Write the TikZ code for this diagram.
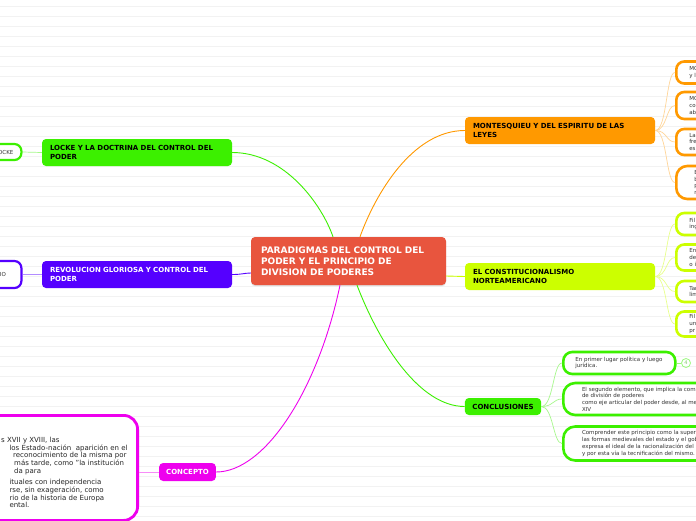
\documentclass[tikz,border=0pt]{standalone}
\usepackage{fontspec}
\setmainfont{DejaVu Sans}
\usetikzlibrary{shadows}
\definecolor{cred}{HTML}{E8553E}
\definecolor{cgreen}{HTML}{3CF000}
\definecolor{cpurple}{HTML}{5500FF}
\definecolor{corange}{HTML}{FF9900}
\definecolor{cyellow}{HTML}{CCFF00}
\definecolor{cmag}{HTML}{EE00EE}
\definecolor{bgline}{HTML}{F2F2F2}
\tikzset{
  hdr/.style={rounded corners=4pt, inner xsep=8pt, inner ysep=0pt, align=left,
    font=\fontsize{7}{8.5}\selectfont\bfseries, text=black},
  leaf/.style={draw, fill=white, line width=2.6pt, rounded corners=8pt, inner xsep=13pt,
    inner ysep=0pt, align=left, anchor=west, font=\fontsize{5.5}{6.7}\selectfont, text=black!80},
  sideleaf/.style={draw, fill=white, line width=2.2pt, rounded corners=7pt, anchor=east,
    text width=30pt, align=right, inner ysep=0pt, font=\fontsize{5.5}{6.5}\selectfont, text=black!80},
  link/.style={line width=0.9pt},
  twig/.style={line width=0.7pt},
}
\begin{document}
\begin{tikzpicture}[x=1pt,y=-1pt]
\useasboundingbox (0,0) rectangle (696,520);
\clip (0,0) rectangle (696,520);
\fill[white] (0,0) rectangle (696,520);
\foreach \i in {0,...,51} \draw[bgline, line width=0.7pt] (0,{6.5+10*\i}) -- (696,{6.5+10*\i});

% central
\node[hdr, fill=cred, text=white, font=\fontsize{9}{11}\selectfont\bfseries, text width=175pt,
  inner xsep=10pt, minimum height=48pt, drop shadow={opacity=0.25,shadow xshift=0pt,shadow yshift=-1.2pt}]
  (c) at (348.5,261) {PARADIGMAS DEL CONTROL DEL\\PODER Y EL PRINCIPIO DE\\DIVISION DE PODERES};

% main topics
\node[hdr, fill=cgreen, text width=174pt, minimum height=27pt] (locke) at (137,152.5)
  {LOCKE Y LA DOCTRINA DEL CONTROL DEL\\PODER};
\node[hdr, fill=cpurple, text=white, text width=174pt, minimum height=27pt] (rev) at (137,274.5)
  {REVOLUCION GLORIOSA Y CONTROL DEL\\PODER};
\node[hdr, fill=corange, text width=174pt, minimum height=27pt] (mont) at (560,130.5)
  {MONTESQUIEU Y DEL ESPIRITU DE LAS\\LEYES};
\node[hdr, fill=cyellow, text width=174pt, minimum height=27pt] (const) at (560,276.5)
  {EL CONSTITUCIONALISMO\\NORTEAMERICANO};
\node[hdr, fill=cgreen, inner xsep=7.5pt, minimum height=17pt] (concl) at (503,406.5) {CONCLUSIONES};
\node[hdr, fill=cmag, text=white, inner xsep=7pt, minimum height=18pt] (concepto) at (187.5,472) {CONCEPTO};

% main connectors
\draw[link, cgreen] (locke.east) .. controls (285,152.5) and (322,205) .. ([xshift=-15.5pt]c.north);
\draw[link, corange] ([xshift=11.5pt]c.north) .. controls (375,195) and (412,130.5) .. (mont.west);
\draw[link, cpurple] (rev.east) .. controls (242,274.5) and (245,273) .. ([yshift=-12pt]c.west);
\draw[link, cyellow] ([yshift=-15pt]c.east) -- (const.west);
\draw[link, cgreen] ([xshift=8.5pt]c.south) .. controls (380,345) and (420,406.5) .. (concl.west);
\draw[link, cmag] ([xshift=-8.5pt]c.south) .. controls (318,390) and (265,472) .. (concepto.east);

% left partial leaves
\node[sideleaf, draw=cgreen, inner xsep=8pt, minimum height=16pt] (lockeleaf) at (22.5,152) {LOCKE};
\node[sideleaf, draw=cpurple, inner xsep=15.5pt, minimum height=27pt] (revleaf) at (22.5,274.5) {IO};
\draw[twig, cgreen!45] (locke.west) -- (lockeleaf.east);
\draw[twig, cpurple!45] (rev.west) -- (revleaf.east);

% concept box
\node[draw=cmag, line width=2.8pt, fill=white, rounded corners=14pt, anchor=north east,
  minimum width=160pt, minimum height=105pt] (cbox) at (139,414) {};
\node[anchor=north west, align=left, font=\fontsize{7}{7.8}\selectfont, text=black!85, inner sep=0pt]
  (ctext) at (1,436.7) {s XVII y XVIII, las\\
\hspace*{8.3pt}los Estado-nación\ \ aparición en el\\
\hspace*{12pt}reconocimiento de la misma por\\
\hspace*{13pt}más tarde, como "la institución\\
\hspace*{13pt}da para\\[3.2pt]
\hspace*{8.3pt}ituales con independencia\\
\hspace*{8.3pt}rse, sin exageración, como\\
\hspace*{8.3pt}rio de la historia de Europa\\
\hspace*{8.3pt}ental.};
\draw[twig, cmag!45] (concepto.west) -- (cbox.east |- concepto.west);

% orange leaves
\node[leaf, draw=corange, minimum height=22pt, text width=60pt] (o1) at (675,72.5) {MO\\y la};
\node[leaf, draw=corange, minimum height=27pt, text width=60pt] (o2) at (675,105.5) {MO\\co\\ab};
\node[leaf, draw=corange, minimum height=26pt, text width=60pt] (o3) at (675,142) {La\\fre\\es};
\node[leaf, draw=corange, minimum height=33pt, text width=60pt, inner xsep=18pt, rounded corners=11pt] (o4) at (675,182.5) {E\\b\\p\\n};
\foreach \n in {o1,o2,o3,o4}
  \draw[twig, corange!40] (mont.east) .. controls +(12,0) and +(-9,0) .. (\n.west);

% yellow leaves
\node[leaf, draw=cyellow, minimum height=22pt, text width=60pt] (y1) at (675,224) {Fil\\inge};
\node[leaf, draw=cyellow, minimum height=26pt, text width=60pt] (y2) at (675,257.5) {En\\de\\o i};
\node[leaf, draw=cyellow, minimum height=21pt, text width=60pt] (y3) at (675,291.5) {Tan\\limi};
\node[leaf, draw=cyellow, minimum height=25pt, text width=60pt] (y4) at (675,324) {Fil\\un\\pr};
\foreach \n in {y1,y2,y3,y4}
  \draw[twig, cyellow!45] (const.east) .. controls +(12,0) and +(-9,0) .. (\n.west);

% conclusion leaves
\node[leaf, draw=cgreen, minimum height=22pt, text width=88pt, inner xsep=12pt, rounded corners=9pt] (k1) at (562,363)
  {En primer lugar política y luego\\jurídica.};
\node[leaf, draw=cgreen, minimum height=32pt, minimum width=150pt, inner xsep=18.7pt, rounded corners=12pt] (k2) at (562,399)
  {El segundo elemento, que implica la comp\\de división de poderes\\como eje articular del poder desde, al me\\XIV};
\node[leaf, draw=cgreen, minimum height=34pt, minimum width=150pt, inner xsep=18.7pt, rounded corners=12pt] (k3) at (562,443.5)
  {Comprender este principio como la supera\\las formas medievales del estado y el gob\\expresa el ideal de la racionalización del p\\y por esta vía la tecnificación del mismo.};
\foreach \n in {k1,k2,k3}
  \draw[twig, cgreen!45] (concl.east) .. controls +(12,0) and +(-9,0) .. (\n.west);
\node[circle, draw=cgreen!50, line width=0.8pt, minimum size=9pt, inner sep=0pt,
  font=\fontsize{5}{5}\selectfont, text=cgreen!70!black!60] (num) at (686,363) {4};
\draw[twig, cgreen!50] (k1.east) -- (num.west);
\end{tikzpicture}
\end{document}
